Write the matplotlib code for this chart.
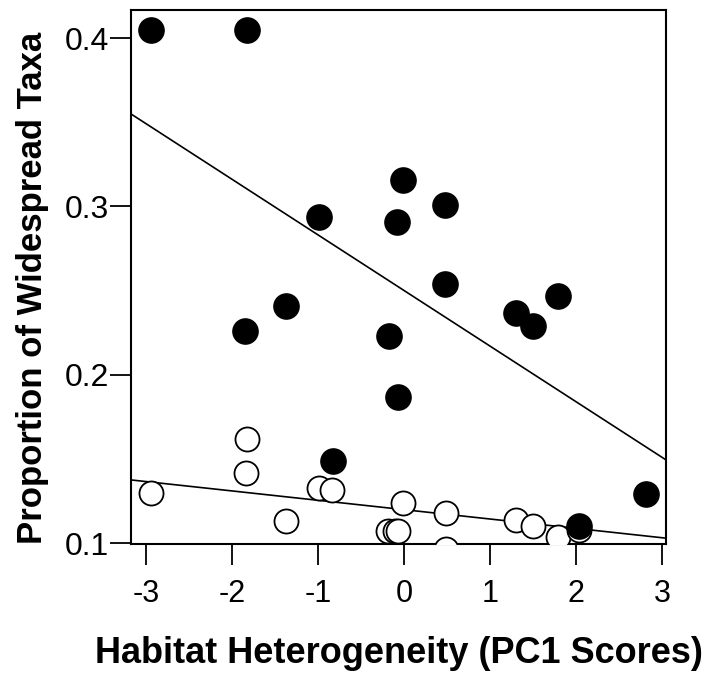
import matplotlib
matplotlib.use("Agg")
import matplotlib.pyplot as plt

plt.rcParams['font.family'] = ['Liberation Sans', 'DejaVu Sans']

# Filled circles (upper group)
filled_x = [-2.94, -1.83, -0.01, -0.99, -0.085, 0.48, 0.48, -1.37, -1.85,
            -0.17, -0.07, -0.83, 1.30, 1.50, 1.79, 2.82, 2.03]
filled_y = [0.405, 0.405, 0.316, 0.294, 0.291, 0.301, 0.254, 0.241, 0.226,
            0.223, 0.187, 0.149, 0.237, 0.229, 0.247, 0.129, 0.110]

# Open circles (lower group)
open_x = [-2.94, -1.83, -1.84, -1.37, -0.99, -0.84, -0.015, -0.18, -0.10,
          -0.07, 0.49, 0.49, 1.30, 1.50, 1.79, 2.03]
open_y = [0.130, 0.162, 0.1415, 0.113, 0.133, 0.1316, 0.124, 0.1074, 0.1074,
          0.107, 0.1178, 0.0966, 0.1138, 0.1104, 0.1039, 0.1078]

# Fitted lines (intercept, slope)
upper_fit = (0.2501, -0.03303)
lower_fit = (0.1199, -0.00556)

x_ticks = [-3, -2, -1, 0, 1, 2, 3]
y_ticks = [0.1, 0.2, 0.3, 0.4]

fig = plt.figure(figsize=(7.10, 6.84), dpi=100)
ax = fig.add_axes([0.1845, 0.2047, 0.7535, 0.7807])

ax.scatter(open_x, open_y, s=300, facecolors='white', edgecolors='black',
           linewidths=1.3, zorder=3)
ax.scatter(filled_x, filled_y, s=330, color='black', zorder=4)

for b0, b1 in (upper_fit, lower_fit):
    ax.axline((0, b0), slope=b1, color='black', lw=1.2, zorder=2)

ax.set_xlim(-3.174, 3.047)
ax.set_ylim(0.0995, 0.4167)
ax.set_xticks(x_ticks)
ax.set_xticklabels([str(v) for v in x_ticks])
ax.set_yticks(y_ticks)
ax.set_yticklabels([f"{v:.1f}" for v in y_ticks])

for s in ax.spines.values():
    s.set_linewidth(1.5)
ax.tick_params(axis='both', length=15, width=1.3)
ax.tick_params(axis='x', pad=10, labelsize=22)
ax.tick_params(axis='y', pad=1, labelsize=23)

ax.set_xlabel("Habitat Heterogeneity (PC1 Scores)", fontsize=26,
              fontweight='bold', labelpad=20)
ax.set_ylabel("Proportion of Widespread Taxa", fontsize=25,
              fontweight='bold', labelpad=11)
ax.yaxis.label.set_y(0.48)

fig.savefig("out.png", dpi=100)
